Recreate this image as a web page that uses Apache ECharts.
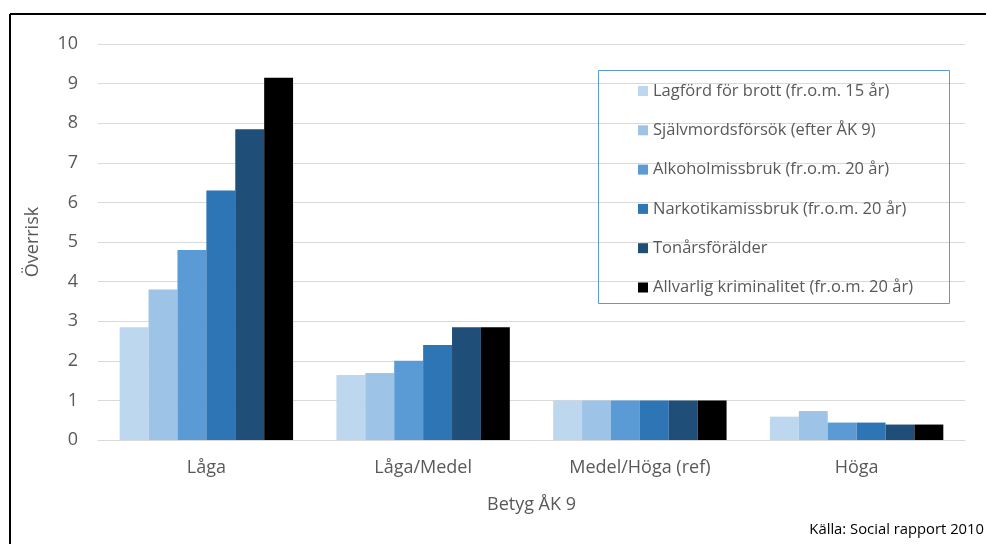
<!DOCTYPE html>
<html>
<head>
<meta charset="utf-8">
<script src="https://cdn.jsdelivr.net/npm/echarts@6/dist/echarts.min.js"></script>
<style>html,body{margin:0;padding:0;background:#fff;}#c{width:987px;height:544px;}</style>
</head>
<body>
<div id="c"></div>
<script>
var categories = ['Låga', 'Låga/Medel', 'Medel/Höga (ref)', 'Höga'];
var seriesNames = [
  'Lagförd för brott (fr.o.m. 15 år)',
  'Självmordsförsök (efter ÅK 9)',
  'Alkoholmissbruk (fr.o.m. 20 år)',
  'Narkotikamissbruk (fr.o.m. 20 år)',
  'Tonårsförälder',
  'Allvarlig kriminalitet (fr.o.m. 20 år)'
];
var lagford = [2.85, 1.64, 1.0, 0.59];
var sjalvmord = [3.8, 1.69, 1.0, 0.73];
var alkohol = [4.8, 2.0, 1.0, 0.44];
var narkotika = [6.3, 2.4, 1.0, 0.44];
var tonar = [7.85, 2.85, 1.0, 0.39];
var allvarlig = [9.15, 2.85, 1.0, 0.39];
var yTicks = [0, 1, 2, 3, 4, 5, 6, 7, 8, 9, 10];

var colors = ['#BDD7EE', '#9DC3E6', '#5B9BD5', '#2E75B6', '#1F4E79', '#000000'];
var dataSets = [lagford, sjalvmord, alkohol, narkotika, tonar, allvarlig];
var font = '"Open Sans", Lato, sans-serif';
var txt = '#595959';

var chart = echarts.init(document.getElementById('c'));
chart.setOption({
  animation: false,
  color: colors,
  textStyle: {fontFamily: font},
  grid: {left: 98, right: 22, top: 44, bottom: 104},
  graphic: [
    {type: 'line', shape: {x1: 10, y1: 14, x2: 986, y2: 14}, style: {stroke: '#000', lineWidth: 2}},
    {type: 'line', shape: {x1: 10, y1: 14, x2: 10, y2: 544}, style: {stroke: '#000', lineWidth: 2}},
    {type: 'rect', shape: {x: 598.5, y: 70.5, width: 351, height: 233}, style: {fill: 'none', stroke: '#5B9BD5', lineWidth: 1}, z: 10},
    {type: 'text', right: 3, top: 522, style: {text: 'Källa: Social rapport 2010', fill: '#000', font: '14.8px ' + font}}
  ],
  legend: {
    orient: 'vertical',
    left: 638,
    top: 82.5,
    padding: 0,
    itemWidth: 10,
    itemHeight: 10,
    itemGap: 22.3,
    icon: 'rect',
    textStyle: {color: txt, fontSize: 16.5, fontFamily: font},
    data: seriesNames
  },
  xAxis: {
    type: 'category',
    data: categories,
    name: 'Betyg ÅK 9',
    nameLocation: 'middle',
    nameGap: 56,
    nameTextStyle: {color: txt, fontSize: 18, fontFamily: font},
    axisLine: {lineStyle: {color: '#D9D9D9', width: 1}},
    axisTick: {show: false},
    axisLabel: {color: txt, fontSize: 18, fontFamily: font, margin: 19}
  },
  yAxis: {
    type: 'value',
    min: yTicks[0],
    max: yTicks[yTicks.length - 1],
    interval: 1,
    name: 'Överrisk',
    nameLocation: 'middle',
    nameGap: 56,
    nameTextStyle: {color: txt, fontSize: 18, fontFamily: font},
    axisLine: {show: false},
    axisTick: {show: false},
    axisLabel: {color: txt, fontSize: 18, fontFamily: font, margin: 20},
    splitLine: {lineStyle: {color: '#D9D9D9', width: 1}}
  },
  series: seriesNames.map(function (n, i) {
    return {
      name: n,
      type: 'bar',
      data: dataSets[i],
      barGap: '0%',
      barCategoryGap: '20%',
      itemStyle: {color: colors[i]}
    };
  })
});
</script>
</body>
</html>
